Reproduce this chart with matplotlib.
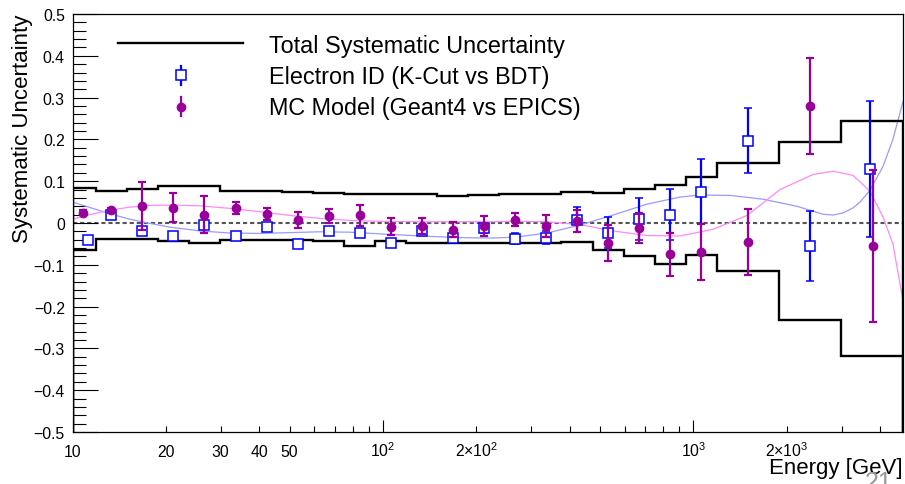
import numpy as np
import matplotlib
matplotlib.use("Agg")
import matplotlib.pyplot as plt
from matplotlib.ticker import FixedLocator, FixedFormatter

plt.rcParams['font.family'] = ['Liberation Sans', 'DejaVu Sans']
plt.rcParams['mathtext.fontset'] = 'custom'
plt.rcParams['mathtext.rm'] = 'Liberation Sans'
plt.rcParams['mathtext.it'] = 'Liberation Sans:italic'

# ---------------- data ----------------
bin_edges = [10.0, 11.885, 14.96, 18.84, 23.71, 29.85, 37.58, 47.32, 59.57, 74.99,
             94.41, 118.9, 149.6, 188.4, 237.1, 298.5, 375.8, 473.2, 595.7, 749.9,
             944.1, 1188.5, 1883.6, 2985.4, 4731.5]
sys_upper = [0.083, 0.0755, 0.082, 0.0875, 0.0875, 0.077, 0.077, 0.073, 0.0707, 0.069,
             0.069, 0.069, 0.065, 0.066, 0.069, 0.069, 0.073, 0.072, 0.081, 0.0914,
             0.109, 0.143, 0.194, 0.244]
sys_lower = [-0.065, -0.039, -0.039, -0.043, -0.047, -0.041, -0.040, -0.041, -0.044, -0.054,
             -0.043, -0.048, -0.048, -0.048, -0.048, -0.048, -0.046, -0.064, -0.079, -0.0985,
             -0.077, -0.1145, -0.232, -0.319]

eid_energy = [11.25, 13.34, 16.79, 21.13, 26.61, 33.50, 42.17, 53.09, 66.83, 84.14,
              105.9, 133.4, 167.9, 211.3, 266.1, 335.0, 421.7, 530.9, 668.3, 841.4,
              1059, 1496, 2371, 3694]
eid_value = [-0.041, 0.020, -0.020, -0.032, -0.004, -0.032, -0.009, -0.050, -0.020, -0.023,
             -0.048, -0.019, -0.035, -0.013, -0.038, -0.035, 0.008, -0.023, 0.009, 0.020,
             0.075, 0.197, -0.055, 0.129]
eid_error = [0.004, 0.004, 0.004, 0.004, 0.004, 0.004, 0.005, 0.005, 0.006, 0.007,
             0.010, 0.006, 0.010, 0.010, 0.013, 0.016, 0.030, 0.038, 0.050, 0.061,
             0.078, 0.078, 0.084, 0.163]

mc_energy = [10.79, 13.34, 16.79, 21.13, 26.61, 33.50, 42.17, 53.09, 66.83, 84.14,
             105.9, 133.4, 167.9, 211.3, 266.1, 335.0, 421.7, 530.9, 668.3, 841.4,
             1059, 1496, 2371, 3784]
mc_value = [0.024, 0.030, 0.041, 0.037, 0.020, 0.036, 0.022, 0.007, 0.016, 0.018,
            -0.009, -0.008, -0.016, -0.007, 0.008, -0.008, 0.005, -0.047, -0.012, -0.075,
            -0.069, -0.045, 0.280, -0.055]
mc_error = [0.006, 0.006, 0.057, 0.035, 0.044, 0.015, 0.014, 0.019, 0.017, 0.024,
            0.020, 0.019, 0.018, 0.024, 0.015, 0.026, 0.026, 0.043, 0.035, 0.051,
            0.067, 0.079, 0.115, 0.182]

eid_fit_energy = [10.0, 11.39, 13.21, 15.32, 17.77, 20.61, 25.74, 32.16, 40.17, 50.18,
                  62.68, 78.29, 97.79, 131.6, 177.0, 221.2, 266.1, 337.5, 431.1, 550.6,
                  708.4, 904.5, 1049, 1311, 1674, 2154, 2613, 2813, 3030, 3264,
                  3438, 3702, 4077, 4390, 4729]
eid_fit_value = [0.050, 0.037, 0.022, 0.009, -0.001, -0.010, -0.019, -0.024, -0.025, -0.023,
                 -0.021, -0.022, -0.026, -0.031, -0.035, -0.036, -0.034, -0.024, -0.005, 0.019,
                 0.045, 0.062, 0.067, 0.066, 0.057, 0.040, 0.021, 0.019, 0.024, 0.036,
                 0.050, 0.078, 0.135, 0.200, 0.290]

mc_fit_energy = [10.0, 11.39, 13.21, 15.32, 17.77, 20.61, 25.74, 32.16, 40.17, 50.18,
                 62.68, 78.29, 97.79, 131.6, 177.0, 221.2, 266.1, 337.5, 431.1, 550.6,
                 708.4, 904.5, 1156, 1487, 1900, 2426, 2813, 3264, 3702, 4077,
                 4390, 4729]
mc_fit_value = [0.009, 0.020, 0.031, 0.038, 0.042, 0.043, 0.041, 0.035, 0.027, 0.018,
                0.011, 0.006, 0.004, 0.003, 0.003, 0.003, 0.004, 0.003, -0.004, -0.019,
                -0.030, -0.031, -0.015, 0.018, 0.080, 0.116, 0.124, 0.114, 0.076, 0.015,
                -0.050, -0.185]

x_major = [10, 100, 1000]
x_major_labels = ['10', '10$^{2}$', '10$^{3}$']
x_minor = [20, 30, 40, 50, 60, 70, 80, 90, 200, 300, 400, 500, 600, 700, 800, 900, 2000, 3000, 4000]
x_minor_labels = ['20', '30', '40', '50', '', '', '', '', '2\u00d710$^{2}$', '', '', '', '', '', '', '',
                  '2\u00d710$^{3}$', '', '']
y_major = [-0.5, -0.4, -0.3, -0.2, -0.1, 0.0, 0.1, 0.2, 0.3, 0.4, 0.5]
y_major_labels = ['\u22120.5', '\u22120.4', '\u22120.3', '\u22120.2', '\u22120.1', '0',
                  '0.1', '0.2', '0.3', '0.4', '0.5']

legend_labels = ['Total Systematic Uncertainty', 'Electron ID (K-Cut vs BDT)',
                 'MC Model (Geant4 vs EPICS)']

# ---------------- styles ----------------
BLUE = '#0000ff'
PURPLE = '#990099'
FIT_BLUE = '#9a9aff'
FIT_PINK = '#ff88ff'

W, H = 905, 485
fig = plt.figure(figsize=(W / 100, H / 100), dpi=100)
L, R, T, B = 72.5, 903.0, 15.0, 433.0
ax = fig.add_axes([L / W, 1 - B / H, (R - L) / W, (B - T) / H])

ax.set_xscale('log')
ax.set_xlim(bin_edges[0], bin_edges[-1])
ax.set_ylim(-0.5, 0.5)

ax.axhline(0, color='#555555', lw=1.5, ls=(0, (2, 1.4)), zorder=1)

ax.plot(eid_fit_energy, eid_fit_value, color=FIT_BLUE, lw=0.9, zorder=2)
ax.plot(mc_fit_energy, mc_fit_value, color=FIT_PINK, lw=0.9, zorder=2)

ax.stairs(sys_upper, bin_edges, baseline=-0.5, color='black', lw=1.7, zorder=3)
ax.stairs(sys_lower, bin_edges, baseline=-0.5, color='black', lw=1.7, zorder=3)

ax.errorbar(eid_energy, eid_value, yerr=eid_error, fmt='s', mfc='white', mec=BLUE,
            ecolor=BLUE, ms=6.5, mew=1.1, elinewidth=1.6, capsize=3, capthick=1.6, zorder=4)
ax.errorbar(mc_energy, mc_value, yerr=mc_error, fmt='o', color=PURPLE, mec=PURPLE,
            ms=6.0, elinewidth=1.6, capsize=3, capthick=1.6, zorder=5)

# ticks
ax.xaxis.set_major_locator(FixedLocator(x_major))
ax.xaxis.set_major_formatter(FixedFormatter(x_major_labels))
ax.xaxis.set_minor_locator(FixedLocator(x_minor))
ax.xaxis.set_minor_formatter(FixedFormatter(x_minor_labels))
ax.yaxis.set_major_locator(FixedLocator(y_major))
ax.yaxis.set_major_formatter(FixedFormatter(y_major_labels))
ax.yaxis.set_minor_locator(FixedLocator(list(np.round(np.arange(-0.5, 0.5001, 0.02), 2))))

ax.tick_params(axis='x', which='major', direction='in', length=9, width=0.8,
               labelsize=11.3, pad=17)
ax.tick_params(axis='x', which='minor', direction='in', length=4.6, width=0.8,
               labelsize=11.3, pad=17)
ax.tick_params(axis='y', which='major', direction='in', length=18, width=0.8,
               labelsize=11.3, pad=5.5)
ax.tick_params(axis='y', which='minor', direction='in', length=9, width=0.8)
for t in ax.xaxis.get_major_ticks() + ax.xaxis.get_minor_ticks():
    t.label1.set_verticalalignment('baseline')

for s in ax.spines.values():
    s.set_linewidth(0.9)

ax.set_xlabel('Energy [GeV]', fontsize=16, loc='right')
ax.xaxis.set_label_coords(1.0, -(458 - B) / (B - T))
ax.set_ylabel('Systematic Uncertainty', fontsize=16, loc='top')
ax.yaxis.set_label_coords((33 - L) / (R - L), 1.0)

# legend (drawn by hand, ROOT style)
def ax_x(px):
    return (px - L) / (R - L)

def ax_y(py):
    return (B - py) / (B - T)

ax.plot([ax_x(118), ax_x(243)], [ax_y(44), ax_y(44)], color='black', lw=1.7,
        transform=ax.transAxes, clip_on=False, zorder=6)
ax.plot([ax_x(181), ax_x(181)], [ax_y(67), ax_y(86)], color=BLUE, lw=1.6,
        transform=ax.transAxes, clip_on=False, zorder=6)
ax.plot([ax_x(181)], [ax_y(76)], 's', mfc='white', mec=BLUE, ms=6.5, mew=1.1,
        transform=ax.transAxes, clip_on=False, zorder=7)
ax.plot([ax_x(181), ax_x(181)], [ax_y(98), ax_y(117)], color=PURPLE, lw=1.6,
        transform=ax.transAxes, clip_on=False, zorder=6)
ax.plot([ax_x(181)], [ax_y(108)], 'o', color=PURPLE, ms=6.0,
        transform=ax.transAxes, clip_on=False, zorder=7)
for lab, base in zip(legend_labels, [53, 84, 115]):
    ax.text(ax_x(269), ax_y(base), lab, fontsize=16.8, ha='left', va='baseline',
            transform=ax.transAxes)

fig.text(879 / W, 1 - 471 / H, '21', color='#999999', fontsize=18, ha='center', va='top')

fig.savefig('out.png', dpi=100)
